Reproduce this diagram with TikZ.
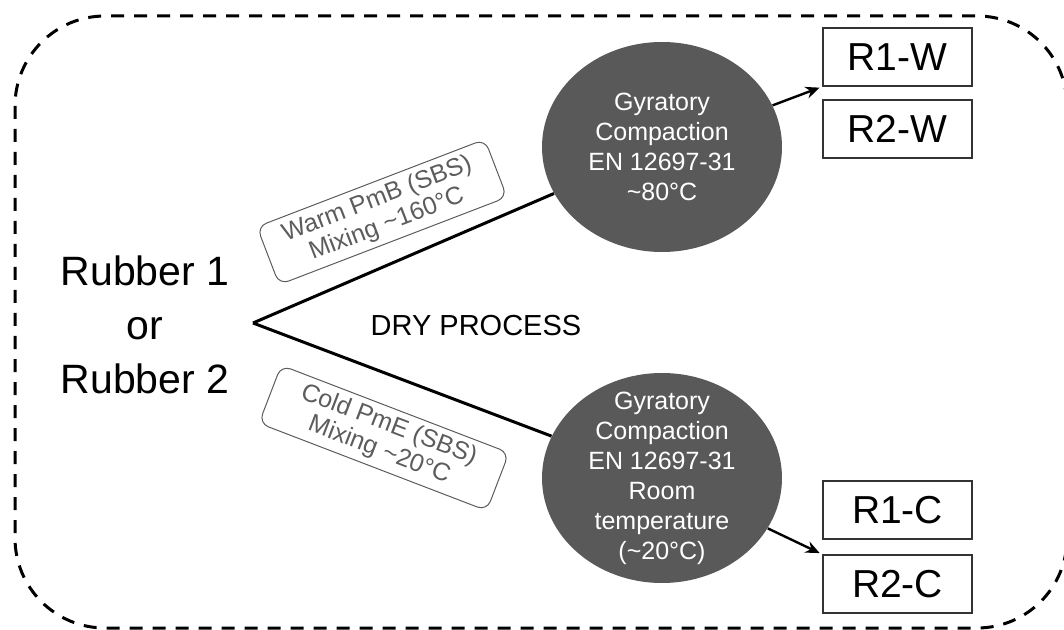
\documentclass[tikz,border=0pt]{standalone}
\usepackage{fontspec}
\setmainfont{Liberation Sans}
\usetikzlibrary{arrows.meta, shapes.geometric}
\definecolor{compgray}{HTML}{595959}
\definecolor{labelgray}{HTML}{5C5C5C}

\begin{document}
\begin{tikzpicture}[
    x=0.5pt, y=-0.5pt,
    frame/.style={draw=black, line width=1.5pt, dash pattern=on 6.5pt off 5pt, rounded corners=45pt},
    source/.style={align=center, font=\fontsize{20.5}{27}\selectfont, inner sep=0pt},
    process/.style={font=\fontsize{14.5}{17}\selectfont, inner sep=0pt},
    mixlabel/.style={draw=labelgray, rounded corners=5pt, line width=0.5pt, text=labelgray, align=center, minimum width=122pt, minimum height=31pt, inner sep=1pt, font=\fontsize{12.5}{13.5}\selectfont},
    compaction/.style={ellipse, fill=compgray, minimum width=120pt, minimum height=105pt, inner sep=0pt},
    compactiontext/.style={text=white, align=center, inner sep=0pt, font=\fontsize{12.5}{15}\selectfont},
    sample/.style={draw=black!80, line width=0.6pt, minimum width=74.5pt, minimum height=29pt, inner sep=0pt, font=\fontsize{19.5}{20}\selectfont},
    fork/.style={line width=1.5pt, black},
    arrow/.style={-{Stealth[length=7pt, width=6pt]}, line width=1.2pt, black, shorten >=1.5pt}
]
    \clip (0,0) rectangle (1064,630);

    % Dashed outline of the whole process.
    \draw[frame] (15,16) rectangle (1067,628);

    \node[source] (rubber) at (145, 325) {Rubber 1\\or\\Rubber 2};
    \coordinate (apex) at (253, 323);
    \node[process] (dry) at (476, 326) {DRY PROCESS};

    % Two compaction routes.
    \node[compaction] (wcomp) at (662, 147) {};
    \node[compaction] (ccomp) at (662, 478) {};
    \node[compactiontext] (wtext) at (662, 147) {Gyratory\\Compaction\\EN 12697-31\\\textasciitilde80°C};
    \node[compactiontext] (ctext) at (662, 478) {Gyratory\\Compaction\\EN 12697-31\\Room\\temperature\\(\textasciitilde20°C)};

    \draw[fork] (apex) -- (wcomp);
    \draw[fork] (apex) -- (ccomp);

    \node[mixlabel, rotate=21] (wmix) at (382, 212) {Warm PmB (SBS)\\Mixing \textasciitilde160°C};
    \node[mixlabel, rotate=-21] (cmix) at (384, 438) {Cold PmE (SBS)\\Mixing \textasciitilde20°C};

    % Resulting mixtures.
    \node[sample] (r1w) at (897.5, 57) {R1-W};
    \node[sample] (r2w) at (897.5, 129) {R2-W};
    \node[sample] (r1c) at (897.5, 510) {R1-C};
    \node[sample] (r2c) at (897.5, 584) {R2-C};

    \draw[arrow] (wcomp) -- (r1w.south west);
    \draw[arrow] (ccomp) -- (r2c.north west);

\end{tikzpicture}
\end{document}
